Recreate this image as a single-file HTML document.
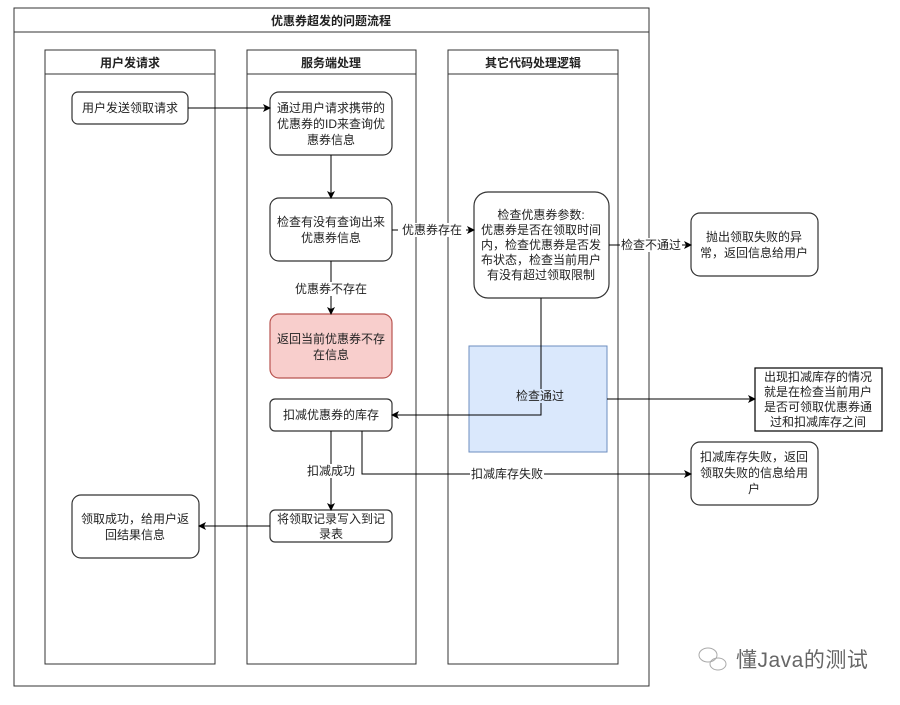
<!DOCTYPE html>
<html><head><meta charset="utf-8"><style>
body{margin:0;background:#fff;}
svg text{font-family:"Liberation Sans","Noto Sans CJK SC",sans-serif;font-size:12px;fill:#222;}
</style></head><body>
<svg width="900" height="700" xmlns="http://www.w3.org/2000/svg">
<defs><marker id="a" markerWidth="8" markerHeight="8" refX="7" refY="4" orient="auto" markerUnits="userSpaceOnUse"><path d="M0,0 L8,4 L0,8 L2,4z" fill="#000"/></marker></defs>
<g fill="none" stroke="#333" stroke-width="1">
<rect x="14" y="8" width="635" height="678"/><line x1="14" y1="32" x2="649" y2="32"/>
<rect x="45" y="50" width="170" height="614"/><line x1="45" y1="74" x2="215" y2="74"/>
<rect x="247" y="50" width="169" height="614"/><line x1="247" y1="74" x2="416" y2="74"/>
<rect x="448" y="50" width="170" height="614"/><line x1="448" y1="74" x2="618" y2="74"/>
</g>
<g font-weight="bold" text-anchor="middle">
<text x="331" y="25" style="font-weight:bold">优惠券超发的问题流程</text>
<text x="130" y="67" style="font-weight:bold">用户发请求</text>
<text x="331" y="67" style="font-weight:bold">服务端处理</text>
<text x="533" y="67" style="font-weight:bold">其它代码处理逻辑</text>
</g>
<rect x="469" y="346" width="138" height="106" fill="#dae8fc" stroke="#6c8ebf"/>
<g fill="#fff" stroke="#333" stroke-width="1.2">
<rect x="72" y="92" width="116" height="32" rx="6"/>
<rect x="270" y="92" width="122" height="63" rx="9"/>
<rect x="270" y="198" width="122" height="63" rx="9"/>
<rect x="270" y="314" width="122" height="64" rx="9" fill="#f8cecc" stroke="#b85450"/>
<rect x="270" y="399" width="122" height="32" rx="5"/>
<rect x="270" y="510" width="122" height="32" rx="5"/>
<rect x="72" y="495" width="127" height="63" rx="9"/>
<rect x="474" y="192" width="135" height="106" rx="14"/>
<rect x="691" y="213" width="127" height="63" rx="9"/>
<rect x="755" y="368" width="127" height="63" stroke="#000"/>
<rect x="691" y="442" width="127" height="63" rx="9"/>
</g>
<g stroke="#000" fill="none" stroke-width="1">
<line x1="188" y1="108" x2="270" y2="108" marker-end="url(#a)"/>
<line x1="331" y1="155" x2="331" y2="198" marker-end="url(#a)"/>
<line x1="331" y1="261" x2="331" y2="314" marker-end="url(#a)"/>
<line x1="392" y1="230" x2="474" y2="230" marker-end="url(#a)"/>
<line x1="609" y1="245" x2="691" y2="245" marker-end="url(#a)"/>
<polyline points="541,298 541,415 392,415" marker-end="url(#a)"/>
<line x1="607" y1="399" x2="755" y2="399" marker-end="url(#a)"/>
<polyline points="362,431 362,474 691,474" marker-end="url(#a)"/>
<line x1="331" y1="431" x2="331" y2="510" marker-end="url(#a)"/>
<line x1="270" y1="526" x2="199" y2="526" marker-end="url(#a)"/>
</g>
<g text-anchor="middle">
<rect x="398" y="223" width="68" height="14" fill="#fff"/><text x="432" y="234">优惠券存在</text>
<rect x="620" y="238" width="62" height="14" fill="#fff"/><text x="651" y="249">检查不通过</text>
<rect x="295" y="282" width="72" height="14" fill="#fff"/><text x="331" y="293">优惠券不存在</text>
<rect x="512" y="389" width="56" height="14" fill="#dae8fc"/><text x="540" y="400">检查通过</text>
<rect x="305" y="464" width="52" height="14" fill="#fff"/><text x="331" y="475">扣减成功</text>
<rect x="470" y="467" width="74" height="14" fill="#fff"/><text x="507" y="478">扣减库存失败</text>
<text x="130" y="112">用户发送领取请求</text>
<text x="331" y="112">通过用户请求携带的</text><text x="331" y="128">优惠券的ID来查询优</text><text x="331" y="144">惠券信息</text>
<text x="331" y="226">检查有没有查询出来</text><text x="331" y="242">优惠券信息</text>
<text x="331" y="343">返回当前优惠券不存</text><text x="331" y="359">在信息</text>
<text x="331" y="419">扣减优惠券的库存</text>
<text x="331" y="523">将领取记录写入到记</text><text x="331" y="538">录表</text>
<text x="135" y="523">领取成功，给用户返</text><text x="135" y="539">回结果信息</text>
<text x="541" y="219">检查优惠券参数:</text><text x="541" y="234">优惠券是否在领取时间</text><text x="541" y="249">内，检查优惠券是否发</text><text x="541" y="264">布状态，检查当前用户</text><text x="541" y="279">有没有超过领取限制</text>
<text x="754" y="241">抛出领取失败的异</text><text x="754" y="257">常，返回信息给用户</text>
<text x="818" y="381">出现扣减库存的情况</text><text x="818" y="396">就是在检查当前用户</text><text x="818" y="411">是否可领取优惠券通</text><text x="818" y="426">过和扣减库存之间</text>
<text x="754" y="461">扣减库存失败，返回</text><text x="754" y="477">领取失败的信息给用</text><text x="754" y="493">户</text>
</g>
<g fill="none" stroke="#aaa"><ellipse cx="708" cy="655" rx="9" ry="7"/><ellipse cx="718" cy="664" rx="8" ry="6"/></g>
<text x="736" y="667" style="font-size:21px;fill:#666;letter-spacing:0.5px">懂Java的测试</text>
</svg>
</body></html>
